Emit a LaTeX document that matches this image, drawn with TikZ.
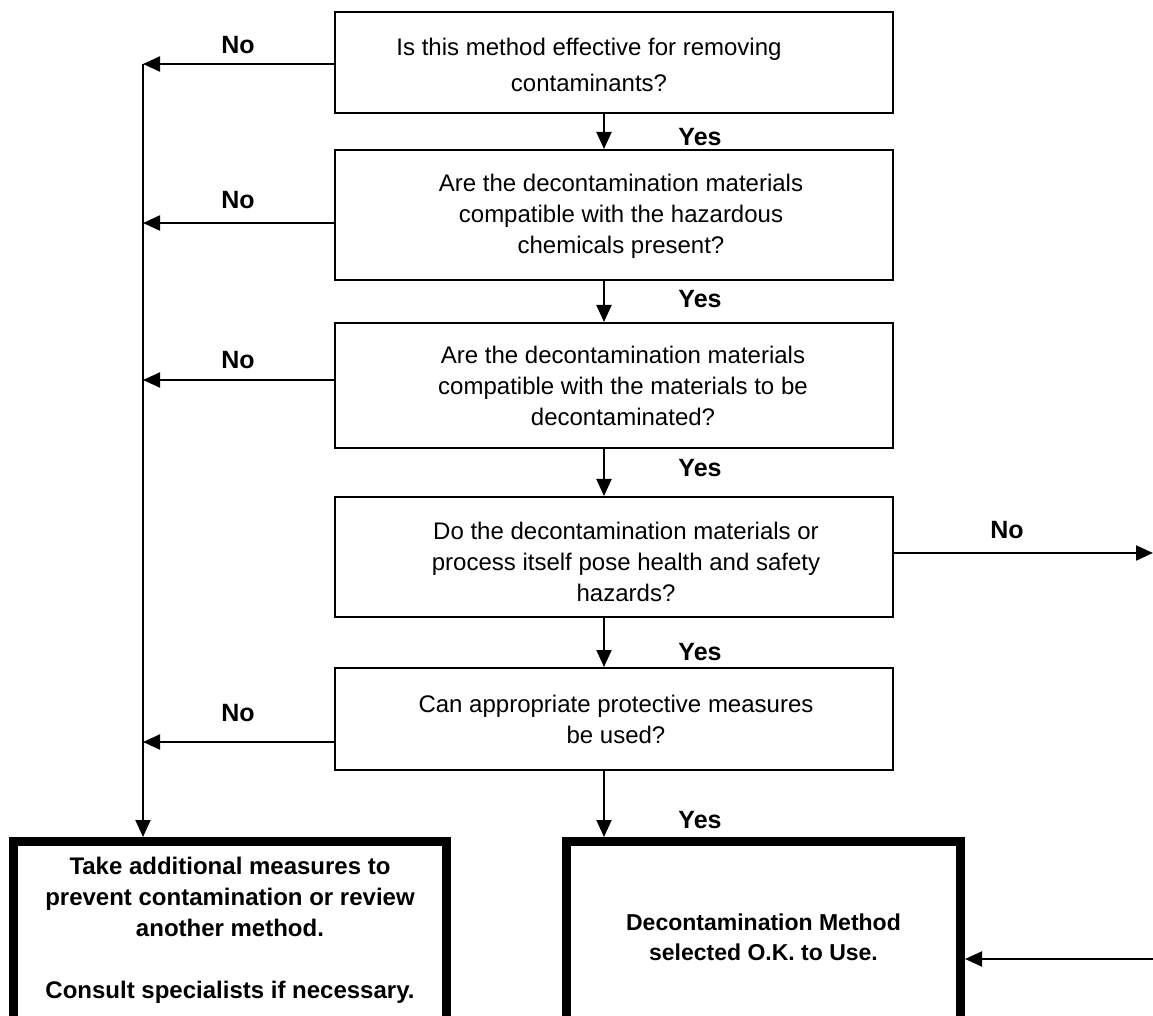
\documentclass[tikz,border=0pt]{standalone}
\usepackage{fontspec}
\setmainfont{Liberation Sans}
\usetikzlibrary{arrows.meta}

\begin{document}
\begin{tikzpicture}[x=0.5pt,y=-0.5pt]
        \tikzstyle{question}=[rectangle,draw,line width=1pt,minimum width=279pt,inner sep=0pt]
        \tikzstyle{qtext}=[align=center,inner sep=0pt,font=\fontsize{12}{15.5}\selectfont]
        \tikzstyle{outcome}=[rectangle,draw,line width=4.5pt,inner sep=0pt,align=center,font=\fontsize{12}{15.5}\selectfont\bfseries]
        \tikzstyle{answer}=[font=\fontsize{12.5}{15}\selectfont\bfseries]
        \tikzstyle{link}=[-{Triangle[length=8.5pt,width=7.5pt]},line width=1pt]
        \useasboundingbox (0,0) rectangle (1153,1016);
        \node[question,minimum height=50.5pt] (q1) at (614,62.5) {};
        \node[question,minimum height=65pt] (q2) at (614,215) {};
        \node[question,minimum height=62.5pt] (q3) at (614,385.5) {};
        \node[question,minimum height=60pt] (q4) at (614,557) {};
        \node[question,minimum height=51pt] (q5) at (614,719) {};
        \node[qtext,font=\fontsize{12}{18}\selectfont] (t1) at (589,65) {Is this method effective for removing\\contaminants?};
        \node[qtext] (t2) at (621,216) {Are the decontamination materials\\compatible with the hazardous\\chemicals present?};
        \node[qtext] (t3) at (623,386) {Are the decontamination materials\\compatible with the materials to be\\decontaminated?};
        \node[qtext] (t4) at (626,562) {Do the decontamination materials or\\process itself pose health and safety\\hazards?};
        \node[qtext] (t5) at (616,719) {Can appropriate protective measures\\be used?};
        \node[outcome,minimum width=216.5pt,minimum height=89.25pt] (stop) at (230,930.75) {Take additional measures to\\prevent contamination or review\\another method.\\[15.5pt]Consult specialists if necessary.};
        \node[outcome,minimum width=197pt,minimum height=89.25pt] (ok) at (763.5,930.75) {};
        \node[qtext,font=\fontsize{11.5}{15}\selectfont\bfseries] (t6) at (763.5,937.5) {Decontamination Method\\selected O.K. to Use.};
        \coordinate (spine) at (604,0);
        \coordinate (n1) at (143,64);
        \coordinate (n2) at (143,223);
        \coordinate (n3) at (143,380);
        \coordinate (n5) at (143,742);
        \coordinate (exit) at (1153,553);
        \coordinate (entry) at (1153,959);
        \draw[link] (q1.south -| spine) -- (q2.north -| spine);
        \draw[link] (q2.south -| spine) -- (q3.north -| spine);
        \draw[link] (q3.south -| spine) -- (q4.north -| spine);
        \draw[link] (q4.south -| spine) -- (q5.north -| spine);
        \draw[link] (q5.south -| spine) -- (ok.north -| spine);
        \draw[link] (q1.west |- n1) -- (n1);
        \draw[link] (q2.west |- n2) -- (n2);
        \draw[link] (q3.west |- n3) -- (n3);
        \draw[link] (q5.west |- n5) -- (n5);
        \draw[link] (n1) -- (n1 |- stop.north);
        \draw[link] (q4.east |- exit) -- (exit);
        \draw[link] (entry) -- (entry -| ok.east);
        \node[answer] at (238,45) {No};
        \node[answer] at (238,200) {No};
        \node[answer] at (238,360) {No};
        \node[answer] at (238,713) {No};
        \node[answer] at (1007,530) {No};
        \node[answer] at (700,137) {Yes};
        \node[answer] at (700,299) {Yes};
        \node[answer] at (700,468) {Yes};
        \node[answer] at (700,652) {Yes};
        \node[answer] at (700,820) {Yes};
\end{tikzpicture}
\end{document}
